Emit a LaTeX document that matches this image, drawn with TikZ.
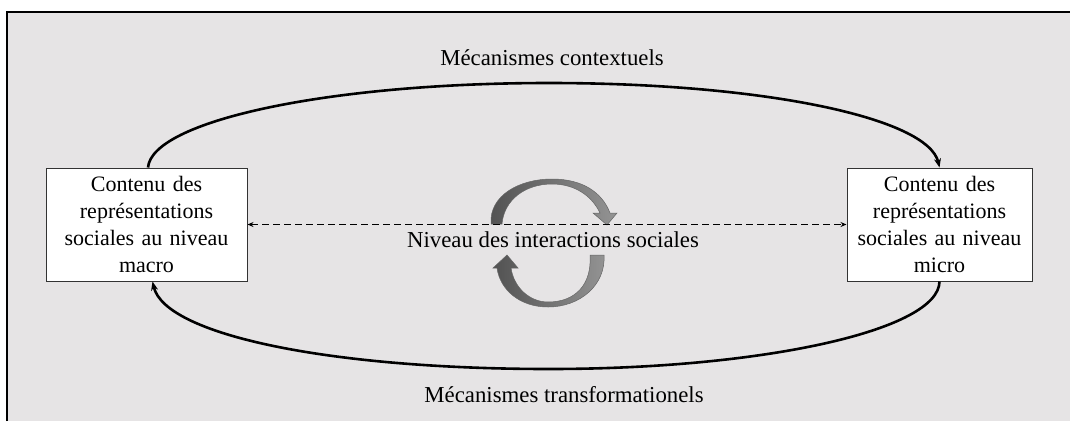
\documentclass[tikz,border=0pt]{standalone}
\usepackage{fontspec}
\setmainfont{Liberation Serif}
\usetikzlibrary{arrows.meta}
\definecolor{bg}{HTML}{E6E4E5}
\begin{document}
\begin{tikzpicture}[x=1pt,y=-1pt,
  box/.style={draw=black!80, line width=1pt, fill=white, minimum height=113pt, align=center, inner sep=0pt, font=\fontsize{22}{27}\selectfont},
  lbl/.style={font=\fontsize{22.8}{26}\selectfont, inner sep=0pt},
  mech/.style={line width=2.6pt, -{Stealth[length=9pt,width=7pt]}},
  ribbon/.style={left color=black!68, right color=black!42, draw=black!60, line width=0.5pt}]
\useasboundingbox (0,0) rectangle (1070,421);
\fill[bg] (7,12) rectangle (1070,421);
\draw[line width=1.5pt] (7,421) -- (7,12) -- (1070,12);

\node[box, minimum width=201pt, text width=196pt] (L) at (146.5,224.5) {Contenu des\\représentations\\sociales au niveau\\macro};
\node[box, minimum width=185pt, text width=183pt] (R) at (939.5,224.5) {Contenu des\\représentations\\sociales au niveau\\micro};

\node[lbl] (top) at (552,58) {Mécanismes contextuels};
\node[lbl] (bot) at (564,395) {Mécanismes transformationels};
\node[lbl] (mid) at (553,240) {Niveau des interactions sociales};

% ribbons
\path[ribbon] (491,224) .. controls (489,195) and (520,179) .. (552,179)
  .. controls (582,179) and (602,192) .. (610,213) -- (617,213) -- (607,225) -- (593,213) -- (600,213)
  .. controls (592,196) and (575,184) .. (552,184)
  .. controls (525,184) and (504,200) .. (502,224) -- cycle;
\path[ribbon] (604,255) .. controls (606,285) and (580,307) .. (548,307)
  .. controls (520,307) and (500,290) .. (497,268) -- (493,268) -- (507,255) -- (518,268) -- (511,268)
  .. controls (514,288) and (530,302) .. (548,302)
  .. controls (575,302) and (592,285) .. (590,255) -- cycle;

\draw[dash pattern=on 7pt off 4pt, line width=1.3pt, {Stealth[length=6pt,width=5pt]}-{Stealth[length=6pt,width=5pt]}] (L.east) -- (R.west);

\draw[mech] ([xshift=1.5pt]L.north) .. controls (152,121) and (328,83) .. (549,83)
  .. controls (764,83) and (928,118) .. (R.north);
\draw[mech] (R.south) .. controls (939,330) and (764,369) .. (549,369)
  .. controls (330,369) and (165,335) .. ([xshift=6pt]L.south);
\end{tikzpicture}
\end{document}
